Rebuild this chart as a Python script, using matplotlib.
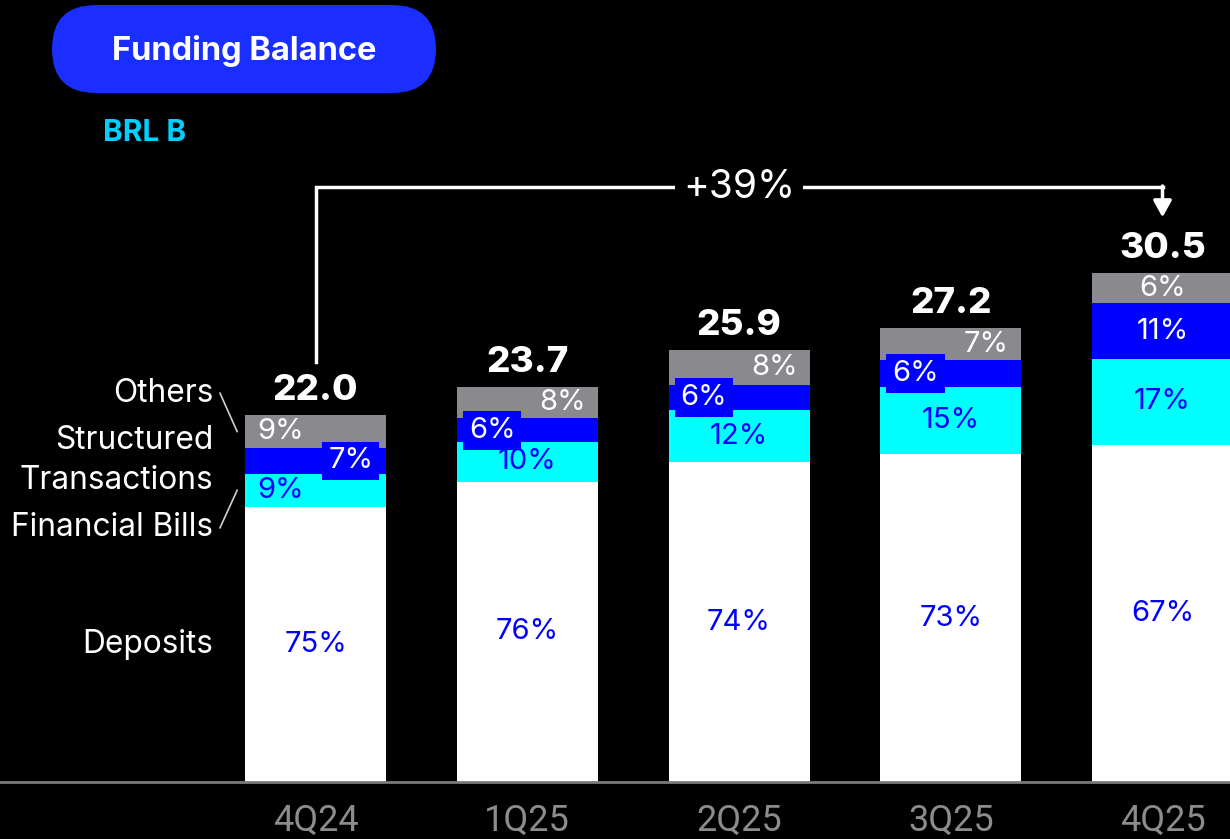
import matplotlib
matplotlib.use("Agg")
import matplotlib.pyplot as plt
from matplotlib.patches import FancyBboxPatch

# ---- data -------------------------------------------------------------
quarters = ["4Q24", "1Q25", "2Q25", "3Q25", "4Q25"]
totals = [22.0, 23.7, 25.9, 27.2, 30.5]            # BRL billion
deposits = [75, 76, 74, 73, 67]                    # % of total
financial_bills = [9, 10, 12, 15, 17]
structured = [7, 6, 6, 6, 11]
others = [9, 8, 8, 7, 6]
series_names = ["Deposits", "Financial Bills", "Structured\nTransactions", "Others"]

# ---- style ------------------------------------------------------------
BG = "#000000"
C_WHITE = "#ffffff"
C_CYAN = "#00ffff"
C_BLUE = "#0000ff"
C_GRAY = "#8a8a8e"
C_PILL = "#1a2eff"
C_BRL = "#00cfff"
C_TICK = "#8c8c8c"
FONT = ["Inter", "DejaVu Sans"]
plt.rcParams["font.family"] = FONT

W, H = 1230, 839
fig = plt.figure(figsize=(W / 100, H / 100), dpi=100, facecolor=BG)

# main axes: baseline 57 px above the bottom edge, full width
px_per_unit_x = 211.75
x0_px = 315.5
bottom_px = H - 782
ymax = 40.0
px_per_unit_y = 16.68
ax = fig.add_axes([0, bottom_px / H, 1, ymax * px_per_unit_y / H])
ax.set_facecolor("none")
ax.set_xlim(-x0_px / px_per_unit_x, (W - x0_px) / px_per_unit_x)
ax.set_ylim(0, ymax)
for s in ["top", "right", "left"]:
    ax.spines[s].set_visible(False)
ax.spines["bottom"].set_color("#7a7a7a")
ax.spines["bottom"].set_linewidth(2)
ax.set_yticks([])

x = list(range(len(quarters)))
bar_w = 141 / px_per_unit_x

shares = [deposits, financial_bills, structured, others]
colors = [C_WHITE, C_CYAN, C_BLUE, C_GRAY]
seg_vals = []
for i in range(len(quarters)):
    tot_pct = sum(s[i] for s in shares)
    seg_vals.append([totals[i] * s[i] / tot_pct for s in shares])

bottoms = [0.0] * len(quarters)
mids = [[0.0] * 4 for _ in quarters]
for k in range(4):
    vals = [seg_vals[i][k] for i in range(len(quarters))]
    ax.bar(x, vals, bar_w, bottom=bottoms, color=colors[k], linewidth=0, zorder=2)
    for i in range(len(quarters)):
        mids[i][k] = bottoms[i] + vals[i] / 2
    bottoms = [b + v for b, v in zip(bottoms, vals)]

# horizontal offsets (bar widths fraction) for small-segment labels
dx = 0.166
label_dx = [
    [0, -dx, dx, -dx],
    [0, 0, -dx, dx],
    [0, 0, -dx, dx],
    [0, 0, -dx, dx],
    [0, 0, 0, 0],
]
PCT_SIZE = 21
for i in range(len(quarters)):
    for k in range(4):
        pct = shares[k][i]
        tx = x[i] + label_dx[i][k]
        ty = mids[i][k]
        if k in (0, 1):
            ax.text(tx, ty, f"{pct}%", color=C_BLUE, fontsize=PCT_SIZE,
                    ha="center", va="center", zorder=4)
        elif k == 2:
            boxed = label_dx[i][k] != 0
            ax.text(tx, ty, f"{pct}%", color="white", fontsize=PCT_SIZE,
                    ha="center", va="center", zorder=4,
                    bbox=dict(boxstyle="square,pad=0.2", fc=C_BLUE, ec="none") if boxed else None)
        else:
            ax.text(tx, ty, f"{pct}%", color="white", fontsize=PCT_SIZE,
                    ha="center", va="center", zorder=4)

# totals above the bars
for i in range(len(quarters)):
    ax.text(x[i], totals[i] + 0.9, f"{totals[i]:.1f}", color="white", fontsize=26.5,
            fontweight="heavy", ha="center", va="baseline", zorder=4)

# series names on the left of the first bar
lx = -0.484
name_y = [mids[0][0], mids[0][1] - 2.25, mids[0][2], mids[0][3] + 2.3]
for name, ny in zip(series_names, name_y):
    ax.text(lx, ny, name, color="white", fontsize=22.8, ha="right", va="center",
            linespacing=1.38)
# leader lines
edge = -0.37
ax.plot([lx + 0.033, edge], [name_y[3], mids[0][3]], color="#d0d0d0", lw=1.2)
ax.plot([lx + 0.033, edge], [name_y[1], mids[0][1]], color="#d0d0d0", lw=1.2)

# growth bracket from first to last quarter
growth = (totals[-1] / totals[0] - 1) * 100
bracket_y = 35.67
ax.plot([x[0], x[0], x[-1]], [totals[0] + 3.2, bracket_y, bracket_y],
        color="white", lw=2.5, solid_joinstyle="miter", zorder=3)
ax.annotate("", xy=(x[-1], totals[-1] + 3.35), xytext=(x[-1], bracket_y + 0.06),
            arrowprops=dict(arrowstyle="-|>,head_length=1.0,head_width=0.55",
                            color="white", lw=2.5, shrinkA=0, shrinkB=0), zorder=3)
ax.text((x[0] + x[-1]) / 2, bracket_y, f"+{growth:.0f}%", color="white", fontsize=28,
        ha="center", va="center", zorder=4,
        bbox=dict(boxstyle="square,pad=0.2", fc=BG, ec="none"))

# category axis
ax.set_xticks(x)
ax.set_xticklabels(quarters, color=C_TICK, fontsize=26, family=["Roboto", "DejaVu Sans"])
ax.tick_params(axis="x", length=0, pad=15)

# header: pill title and unit
hdr = fig.add_axes([0, 0, 1, 1])
hdr.set_xlim(0, W)
hdr.set_ylim(H, 0)
hdr.axis("off")
hdr.set_facecolor("none")
pill = FancyBboxPatch((52, 5), 384, 88, boxstyle="round,pad=0,rounding_size=44",
                      fc=C_PILL, ec="none")
hdr.add_patch(pill)
hdr.text(244, 51, "Funding Balance", color="white", fontsize=23.5, fontweight="bold",
         ha="center", va="center")
hdr.text(103, 133, "BRL B", color=C_BRL, fontsize=21.5, fontweight="bold",
         ha="left", va="center")

fig.savefig("out.png", dpi=100, facecolor=BG)
